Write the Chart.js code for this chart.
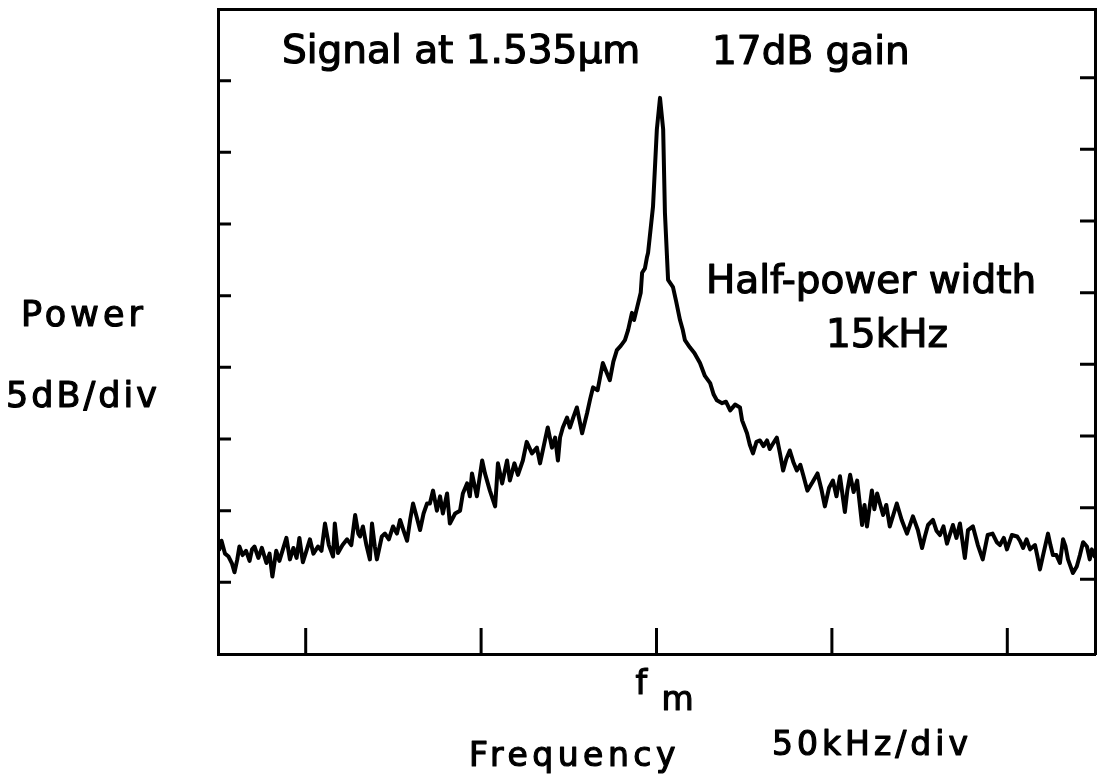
<!DOCTYPE html>
<html>
<head>
<meta charset="utf-8">
<script src="https://cdn.jsdelivr.net/npm/chart.js@4.4.1/dist/chart.umd.min.js"></script>
<style>
  html, body { margin: 0; padding: 0; background: #fff; }
  #wrap { width: 1097px; height: 777px; position: relative; }
</style>
</head>
<body>
<div id="wrap"><canvas id="spectrum" width="1097" height="777"></canvas></div>
<script>
// frequency offset from fm, kHz (50 kHz/div)
const freqKHz = [
  -124.6, -124.0, -123.0, -122.0, -121.0, -120.3, -119.5, -118.9, -118.0, -117.0,
  -116.0, -115.3, -114.6, -113.5, -112.5, -111.2, -110.3, -109.5, -108.4, -107.5,
  -106.5, -105.5, -104.5, -103.5, -102.6, -101.8, -100.8, -99.8, -98.8, -97.8,
  -96.5, -95.5, -94.5, -93.4, -92.2, -91.7, -90.8, -89.5, -88.2, -87.0,
  -85.9, -85.0, -84.5, -83.7, -82.7, -81.7, -81.1, -80.3, -79.7, -78.3,
  -77.4, -76.3, -75.1, -74.0, -73.1, -72.1, -71.1, -70.2, -69.4, -68.4,
  -67.4, -66.4, -65.4,
  -64.6, -63.7, -62.6, -61.7, -60.9, -59.7, -58.9, -57.4, -56.0, -55.2,
  -54.0, -53.2, -52.6, -51.2, -49.7, -48.9, -47.5, -46.0, -45.2, -44.0,
  -42.6, -41.8, -40.5, -39.5, -38.1, -37.0, -35.5, -34.1, -33.2, -31.8,
  -31.0, -29.8, -28.9, -28.1, -27.5, -26.7, -25.5,
  -24.7, -23.6, -22.7, -21.2, -19.8, -18.9, -18.1, -16.8, -15.3, -14.3,
  -13.3, -12.3, -11.3, -10.2, -9.0, -8.1, -7.0, -6.4, -5.5, -4.5,
  -4.1, -3.3, -2.7, -2.4, -1.0, 0.1, 1.0, 1.9, 2.4, 3.3,
  4.7, 5.6, 6.7, 7.5, 8.1, 9.5,
  10.8, 12.4, 13.8, 15.3, 16.3, 17.2, 18.7, 19.8, 21.0, 22.4,
  23.8, 24.4, 25.8, 26.6, 27.5, 28.5, 29.5, 30.5, 31.5, 32.3,
  33.0, 34.3, 35.2, 36.1, 37.0, 38.0, 39.0, 40.0, 41.0, 41.8,
  43.0, 44.5, 45.9, 47.0, 48.0, 49.2, 50.3, 51.3, 52.3, 53.7,
  54.4, 55.2, 56.2, 57.2, 58.6, 59.3, 60.0, 61.4, 62.1, 62.9,
  64.6, 65.5, 66.5, 68.5, 69.9, 71.4, 73.1, 74.5, 75.7, 76.5,
  77.4, 78.8, 79.8, 80.8, 81.8, 82.8, 84.5, 85.5, 86.5, 87.9,
  88.8, 90.2, 91.6, 93.0, 94.4, 95.8, 97.0, 97.9, 99.0, 99.9,
  101.3, 102.8, 103.6, 104.5, 105.5, 106.5, 107.9, 108.6, 109.3, 110.3,
  111.6, 112.3, 113.0, 114.0, 115.0, 115.9, 116.6, 117.3, 118.7, 119.8,
  120.7, 121.6, 122.7, 123.5, 124.1, 124.9
];
// power, dB above the bottom of the screen (5 dB/div)
const powerDB = [
  7.3, 7.9, 7.0, 6.8, 6.3, 5.7, 6.6, 7.5, 6.9, 7.2,
  6.5, 7.3, 7.5, 6.7, 7.4, 6.35, 7.0, 5.4, 7.2, 6.5,
  7.3, 8.1, 6.6, 7.4, 6.7, 8.1, 6.4, 7.2, 8.0, 7.0,
  7.5, 7.2, 9.1, 7.6, 6.8, 9.1, 7.05, 7.6, 8.0, 7.6,
  9.7, 8.4, 8.2, 8.9, 7.6, 6.6, 9.1, 7.5, 6.6, 8.2,
  8.4, 8.0, 8.9, 8.4, 9.35, 8.6, 7.9, 9.4, 10.5, 9.6,
  8.65, 9.8, 10.5,
  10.5, 11.4, 10.0, 11.0, 9.8, 11.2, 9.1, 9.8, 10.0, 11.2,
  11.9, 11.0, 12.6, 11.0, 13.5, 12.6, 11.4, 10.3, 13.3, 11.9,
  13.5, 12.1, 13.3, 12.5, 13.5, 14.8, 14.0, 14.4, 13.3, 14.9,
  15.8, 14.4, 15.1, 13.5, 15.1, 15.8, 16.5,
  15.8, 16.6, 17.2, 15.4, 16.8, 17.8, 18.6, 18.4, 20.3, 19.7,
  19.1, 20.4, 21.2, 21.5, 21.9, 22.6, 23.8, 23.3, 24.2, 25.2,
  26.6, 26.9, 27.7, 28.0, 31.2, 36.6, 38.8, 36.6, 30.8, 26.1,
  25.6, 24.6, 23.3, 22.6, 21.9, 21.4,
  21.0, 20.3, 19.4, 18.9, 18.1, 17.7, 17.5, 17.6, 17.0, 17.4,
  17.2, 16.3, 15.4, 14.6, 14.0, 14.8, 14.9, 14.5, 14.9, 14.3,
  14.6, 15.1, 14.0, 12.8, 13.6, 14.2, 13.4, 12.8, 13.2, 12.5,
  11.4, 12.0, 12.6, 11.5, 10.3, 11.6, 12.1, 11.0, 12.4, 9.9,
  11.4, 12.5, 11.3, 12.1, 9.0, 10.4, 8.9, 11.4, 10.1, 11.2,
  9.7, 10.4, 8.9, 10.5, 9.35, 8.4, 9.6, 8.65, 7.4, 8.2,
  9.0, 9.35, 8.6, 8.3, 8.9, 7.7, 9.0, 8.1, 9.1, 6.7,
  8.65, 8.9, 7.6, 6.6, 8.3, 8.4, 7.8, 7.6, 8.1, 7.3,
  8.3, 8.2, 7.9, 7.4, 8.0, 7.3, 7.6, 6.8, 5.9, 7.0,
  8.4, 7.6, 6.9, 6.9, 6.35, 8.0, 7.5, 6.6, 5.65, 6.1,
  6.9, 7.8, 7.5, 6.6, 7.3, 6.8
];

// tick marks (drawn inward, no numbers on the original)
const xTicks = [-100, -50, 0, 50, 100];
const yTicks = [5, 10, 15, 20, 25, 30, 35, 40];
const xRange = [-125, 125];
const yRange = [0, 45];

const FONT = '"DejaVu Sans", "Liberation Sans", sans-serif';

const innerTicks = {
  id: "innerTicks",
  afterDraw(chart) {
    const { ctx, chartArea: a } = chart;
    const xs = chart.scales.x;
    const ys = chart.scales.y;
    ctx.save();
    ctx.strokeStyle = "#000";
    ctx.lineWidth = 3;
    ctx.lineCap = "butt";
    ctx.beginPath();
    yTicks.forEach((v) => {
      const py = ys.getPixelForValue(v);
      ctx.moveTo(a.left, py);
      ctx.lineTo(a.left + 13, py);
      ctx.moveTo(a.right - 15, py - 3);
      ctx.lineTo(a.right, py - 3);
    });
    xTicks.forEach((v) => {
      const px = xs.getPixelForValue(v);
      ctx.moveTo(px, a.bottom);
      ctx.lineTo(px, a.bottom - 26);
    });
    ctx.stroke();
    ctx.restore();
  }
};

// fill + thin stroke so the glyphs get the heavier look of the scan
function heavyText(ctx, text, x, y) {
  ctx.fillText(text, x, y);
  ctx.strokeText(text, x, y);
}

const labels = {
  id: "labels",
  afterDraw(chart) {
    const { ctx } = chart;
    const fmX = chart.scales.x.getPixelForValue(0);
    ctx.save();
    ctx.fillStyle = "#000";
    ctx.strokeStyle = "#000";
    ctx.lineWidth = 1.2;
    ctx.lineJoin = "round";
    ctx.textBaseline = "alphabetic";
    ctx.textAlign = "left";

    ctx.font = "39px " + FONT;
    heavyText(ctx, "Signal at 1.535µm", 282, 63);
    heavyText(ctx, "17dB gain", 712, 64);
    heavyText(ctx, "Half-power width", 706, 293);
    heavyText(ctx, "15kHz", 826, 347);

    ctx.font = "35px " + FONT;
    ctx.letterSpacing = "4px";
    heavyText(ctx, "Power", 21, 326);
    ctx.letterSpacing = "3px";
    heavyText(ctx, "5dB/div", 6, 407);
    ctx.font = "33px " + FONT;
    ctx.letterSpacing = "4.5px";
    heavyText(ctx, "Frequency", 469, 766);
    ctx.letterSpacing = "4px";
    heavyText(ctx, "50kHz/div", 772, 755);

    ctx.letterSpacing = "0px";
    ctx.font = "33px " + FONT;
    heavyText(ctx, "f", fmX - 21, 694);
    heavyText(ctx, "m", fmX + 5, 710);
    ctx.restore();
  }
};

const axisStyle = {
  type: "linear",
  display: true,
  grid: { display: false, drawTicks: false },
  ticks: { display: false },
  border: { display: true, color: "#000", width: 3 }
};

const ctx = document.getElementById("spectrum").getContext("2d");
new Chart(ctx, {
  type: "line",
  data: {
    datasets: [
      {
        label: "Signal",
        data: freqKHz.map((f, i) => ({ x: f, y: powerDB[i] })),
        borderColor: "#000",
        borderWidth: 4,
        borderJoinStyle: "round",
        borderCapStyle: "round",
        tension: 0,
        pointRadius: 0,
        pointHoverRadius: 0,
        fill: false
      }
    ]
  },
  options: {
    responsive: false,
    animation: false,
    layout: { padding: { left: 218, right: 2, top: 9, bottom: 123 } },
    plugins: {
      legend: { display: false },
      tooltip: { enabled: false },
      title: { display: false }
    },
    scales: {
      x: { ...axisStyle, position: "bottom", min: xRange[0], max: xRange[1] },
      x2: { ...axisStyle, position: "top", min: xRange[0], max: xRange[1] },
      y: { ...axisStyle, position: "left", min: yRange[0], max: yRange[1] },
      y2: { ...axisStyle, position: "right", min: yRange[0], max: yRange[1] }
    }
  },
  plugins: [innerTicks, labels]
});
</script>
</body>
</html>
